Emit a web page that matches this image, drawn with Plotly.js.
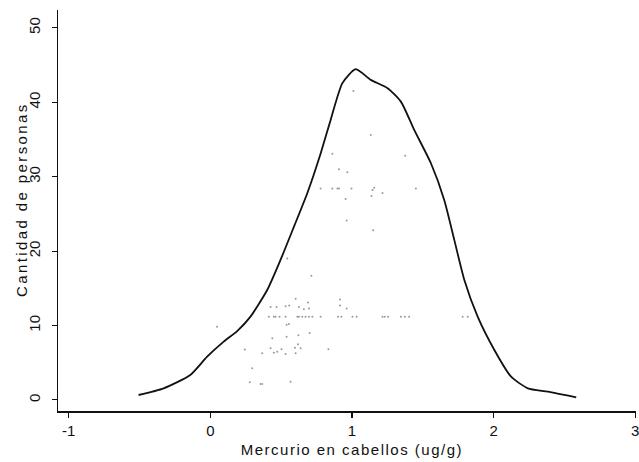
<!DOCTYPE html>
<html>
<head>
<meta charset="utf-8">
<script src="https://cdn.plot.ly/plotly-3.0.1.min.js"></script>
<style>
html,body{margin:0;padding:0;background:#fff;}
#chart{width:639px;height:462px;}
</style>
</head>
<body>
<div id="chart"></div>
<script>
// Density curve (Mercurio en cabellos vs Cantidad de personas)
const curveX = [-0.507, -0.330, -0.142, -0.023, 0.094, 0.189, 0.283, 0.401, 0.495, 0.590, 0.684, 0.779, 0.849, 0.932, 1.026, 1.132, 1.251, 1.345, 1.439, 1.557, 1.651, 1.722, 1.793, 1.887, 2.005, 2.123, 2.241, 2.383, 2.583];
const curveY = [0.67, 1.57, 3.36, 5.82, 7.84, 9.25, 11.20, 14.78, 18.82, 23.29, 27.78, 33.16, 37.63, 42.57, 44.45, 43.01, 41.90, 40.09, 36.29, 31.81, 26.88, 21.51, 16.13, 11.20, 6.72, 3.13, 1.57, 1.12, 0.36];

// Faint scattered observations
const dotX = [1.010, 1.132, 0.861, 1.375, 0.908, 0.967,
  0.778, 0.861, 0.897, 0.908, 0.996, 1.144, 1.156, 1.215, 1.451, 1.137, 0.955, 0.962, 1.149,
  0.543, 0.713, 0.047,
  0.602, 0.689, 0.915,
  0.425, 0.467, 0.531, 0.557, 0.625, 0.660, 0.696, 0.915, 0.962,
  0.413, 0.448, 0.460, 0.488, 0.531, 0.614, 0.625, 0.649, 0.672, 0.696, 0.720, 0.778, 0.901, 0.925, 1.003, 1.033, 1.215, 1.231, 1.255, 1.345, 1.373, 1.403, 1.781, 1.817,
  0.538, 0.554, 0.701, 0.538, 0.621, 0.437,
  0.243, 0.366, 0.425, 0.448, 0.472, 0.502, 0.531, 0.597, 0.602, 0.618, 0.637, 0.833,
  0.295, 0.278, 0.354, 0.366, 0.566];
const dotY = [41.5, 35.6, 33.1, 32.8, 31.0, 30.6,
  28.4, 28.4, 28.4, 28.4, 28.4, 28.2, 28.5, 27.8, 28.4, 27.4, 27.0, 24.1, 22.8,
  19.0, 16.7, 9.85,
  13.6, 13.1, 13.5,
  12.5, 12.5, 12.6, 12.7, 12.5, 12.2, 12.3, 12.7, 12.3,
  11.2, 11.2, 11.2, 11.2, 11.2, 11.2, 11.2, 11.2, 11.2, 11.2, 11.2, 11.2, 11.2, 11.2, 11.2, 11.2, 11.2, 11.2, 11.2, 11.2, 11.2, 11.2, 11.2, 11.2,
  10.1, 10.2, 9.0, 8.5, 8.7, 8.3,
  6.8, 6.27, 6.95, 6.36, 6.49, 6.81, 6.18, 7.03, 6.27, 7.49, 6.95, 6.81,
  4.26, 2.38, 2.15, 2.15, 2.46];

const xTicks = [-1, 0, 1, 2, 3];
const xTickText = ['-1', '0', '1', '2', '3'];
const yTicks = [0, 10, 20, 30, 40, 50];
const yTickText = ['0', '10', '20', '30', '40', '50'];

const fontFam = 'Liberation Sans, Arial, sans-serif';

const traces = [
  {
    x: dotX, y: dotY, type: 'scatter', mode: 'markers',
    marker: {size: 2, color: '#9a9a9a'},
    hoverinfo: 'skip', showlegend: false
  },
  {
    x: curveX, y: curveY, type: 'scatter', mode: 'lines',
    line: {color: '#111', width: 1.8, shape: 'spline', smoothing: 0.6},
    hoverinfo: 'skip', showlegend: false
  }
];

const layout = {
  width: 639, height: 462,
  margin: {l: 58, r: 3, t: 10, b: 51, pad: 0},
  paper_bgcolor: '#fff', plot_bgcolor: '#fff',
  font: {family: fontFam, color: '#111', size: 14},
  showlegend: false,
  xaxis: {
    range: [-1.076, 3.005],
    tickvals: xTicks, ticktext: xTickText,
    ticks: 'outside', ticklen: 5, tickwidth: 1.3, tickcolor: '#111',
    showline: true, linecolor: '#111', linewidth: 2,
    showgrid: false, zeroline: false,
    tickfont: {family: fontFam, size: 15, color: '#111'},
    ticklabelstandoff: 0,
    ticklabeloverflow: 'allow'
  },
  yaxis: {
    range: [-1.48, 52.4],
    tickvals: yTicks, ticktext: yTickText,
    ticks: 'outside', ticklen: 5, tickwidth: 1, tickcolor: '#111',
    showline: true, linecolor: '#111', linewidth: 1,
    showgrid: false, zeroline: false,
    tickangle: -90,
    tickfont: {family: fontFam, size: 15, color: '#111'},
    ticklabelstandoff: 6
  },
  annotations: [
    {
      text: 'Mercurio en cabellos (ug/g)', xref: 'paper', yref: 'paper',
      x: 0.509, y: 0, xanchor: 'center', yanchor: 'middle', yshift: -38,
      showarrow: false, font: {family: fontFam, size: 15, color: '#111'}
    },
    {
      text: 'Cantidad de personas', xref: 'paper', yref: 'paper',
      x: 0, y: 0.526, xanchor: 'center', yanchor: 'middle', xshift: -37,
      textangle: -90,
      showarrow: false, font: {family: fontFam, size: 15, color: '#111'}
    }
  ]
};

Plotly.newPlot('chart', traces, layout, {displayModeBar: false, staticPlot: true}).then(function(gd){
  const anns = gd.querySelectorAll('.annotation-text');
  if (anns[0]) anns[0].style.letterSpacing = '1.5px';
  if (anns[1]) anns[1].style.letterSpacing = '2.4px';
});
</script>
</body>
</html>
